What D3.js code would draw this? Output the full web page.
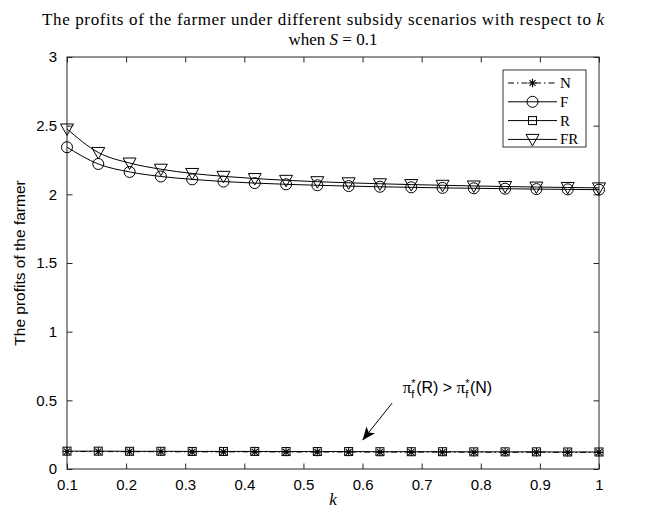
<!DOCTYPE html>
<html>
<head>
<meta charset="utf-8">
<script src="https://cdn.jsdelivr.net/npm/d3@7"></script>
<style>
  body { margin: 0; background: #fff; }
  svg { display: block; }
  text { white-space: pre; }
</style>
</head>
<body>
<script>
// values (S = 0.1), 18 sample points in k
var kValues = [0.1, 0.1529, 0.2059, 0.2588, 0.3118, 0.3647, 0.4176, 0.4706, 0.5235,
    0.5765, 0.6294, 0.6824, 0.7353, 0.7882, 0.8412, 0.8941, 0.9471, 1.0];
var profitN = [0.127, 0.127, 0.126, 0.126, 0.125, 0.125, 0.125, 0.124, 0.124,
    0.124, 0.123, 0.123, 0.123, 0.122, 0.122, 0.122, 0.121, 0.121];
var profitF = [2.343, 2.221, 2.163, 2.130, 2.109, 2.093, 2.082, 2.073, 2.066,
    2.060, 2.055, 2.051, 2.047, 2.044, 2.041, 2.038, 2.036, 2.034];
var profitR = [0.130, 0.130, 0.129, 0.129, 0.128, 0.128, 0.128, 0.127, 0.127,
    0.127, 0.126, 0.126, 0.126, 0.125, 0.125, 0.125, 0.124, 0.124];
var profitFR = [2.476, 2.305, 2.228, 2.183, 2.152, 2.131, 2.115, 2.102, 2.092,
    2.084, 2.077, 2.071, 2.066, 2.061, 2.057, 2.053, 2.050, 2.047];
var xTicks = [0.1, 0.2, 0.3, 0.4, 0.5, 0.6, 0.7, 0.8, 0.9, 1];
var yTicks = [0, 0.5, 1, 1.5, 2, 2.5, 3];
var seriesNames = ['N', 'F', 'R', 'FR'];

var width = 646, height = 513;
var margin = { top: 57, right: 47, bottom: 44, left: 67 };

var svg = d3.select("body").append("svg")
    .attr("width", width)
    .attr("height", height);

var x = d3.scaleLinear().domain([0.1, 1]).range([margin.left, width - margin.right]);
var y = d3.scaleLinear().domain([0, 3]).range([height - margin.bottom, margin.top]);

var series = [
    { name: 'N', values: profitN, dash: '6,3,1.5,3', marker: 'asterisk' },
    { name: 'F', values: profitF, dash: null, marker: 'circle' },
    { name: 'R', values: profitR, dash: null, marker: 'square' },
    { name: 'FR', values: profitFR, dash: null, marker: 'triangle' }
];

// marker shapes centred at 0,0
function drawMarker(g, type) {
    if (type == 'circle') {
        g.append("circle").attr("r", 5.5).attr("fill", "none").attr("stroke", "#000").attr("stroke-width", 1);
    } else if (type == 'square') {
        g.append("rect").attr("x", -4).attr("y", -4).attr("width", 8).attr("height", 8)
            .attr("fill", "none").attr("stroke", "#000").attr("stroke-width", 1);
    } else if (type == 'triangle') {
        g.append("path").attr("d", "M-6.5,-5L6.5,-5L0,6.5Z")
            .attr("fill", "none").attr("stroke", "#000").attr("stroke-width", 1);
    } else if (type == 'asterisk') {
        var r = 4.2, p = "";
        [0, 45, 90, 135].forEach(a => {
            var c = Math.cos(a * Math.PI / 180) * r, s = Math.sin(a * Math.PI / 180) * r;
            p += "M" + (-c) + "," + (-s) + "L" + c + "," + s;
        });
        g.append("path").attr("d", p).attr("stroke", "#000").attr("stroke-width", 1.1);
    }
}

// axes box and ticks (inward, all four sides)
svg.append("rect")
    .attr("x", x.range()[0]).attr("y", y.range()[1])
    .attr("width", x.range()[1] - x.range()[0])
    .attr("height", y.range()[0] - y.range()[1])
    .attr("fill", "#fff").attr("stroke", "#262626").attr("stroke-width", 1);

var tickLen = 5.5;
var axisFont = "15px 'Liberation Sans', Arial, sans-serif";

var xb = svg.append("g").attr("transform", `translate(0,${y.range()[0]})`)
    .call(d3.axisBottom(x).tickValues(xTicks).tickSizeInner(-tickLen).tickSizeOuter(0)
        .tickPadding(10).tickFormat(d => d3.format("")(d)));
var xt = svg.append("g").attr("transform", `translate(0,${y.range()[1]})`)
    .call(d3.axisTop(x).tickValues(xTicks).tickSizeInner(-tickLen).tickSizeOuter(0).tickFormat(""));
var yl = svg.append("g").attr("transform", `translate(${x.range()[0]},0)`)
    .call(d3.axisLeft(y).tickValues(yTicks).tickSizeInner(-tickLen).tickSizeOuter(0)
        .tickPadding(10).tickFormat(d => d3.format("")(d)));
var yr = svg.append("g").attr("transform", `translate(${x.range()[1]},0)`)
    .call(d3.axisRight(y).tickValues(yTicks).tickSizeInner(-tickLen).tickSizeOuter(0).tickFormat(""));
[xb, xt, yl, yr].forEach(a => {
    a.select(".domain").remove();
    a.selectAll("line").attr("stroke", "#262626");
    a.selectAll("text").style("font", axisFont).attr("fill", "#000");
});

// curves
var line = d3.line()
    .x((d, i) => x(kValues[i]))
    .y(d => y(d))
    .curve(d3.curveMonotoneX);

series.forEach(s => {
    svg.append("path")
        .attr("d", line(s.values))
        .attr("fill", "none")
        .attr("stroke", "#000")
        .attr("stroke-width", 1)
        .attr("stroke-dasharray", s.dash);
});
series.forEach(s => {
    s.values.forEach((v, i) => {
        var g = svg.append("g").attr("transform", `translate(${x(kValues[i])},${y(v)})`);
        drawMarker(g, s.marker);
    });
});

// legend
var serif = "'Liberation Serif', 'Times New Roman', serif";
var leg = svg.append("g").attr("transform", "translate(503,70)");
leg.append("rect").attr("width", 83).attr("height", 77)
    .attr("fill", "#fff").attr("stroke", "#000").attr("stroke-width", 0.8);
series.forEach((s, i) => {
    var yy = 13 + i * 18.8;
    leg.append("line").attr("x1", 5).attr("x2", 54).attr("y1", yy).attr("y2", yy)
        .attr("stroke", "#000").attr("stroke-width", 1).attr("stroke-dasharray", s.dash);
    drawMarker(leg.append("g").attr("transform", `translate(29.5,${yy})`), s.marker);
    leg.append("text").attr("x", 57).attr("y", yy + 5)
        .style("font-family", serif).style("font-size", "15px")
        .text(seriesNames[i]);
});

// title (stretched to the width of the LaTeX original)
var title = svg.append("text").attr("text-anchor", "middle")
    .attr("x", 323).attr("y", 25)
    .attr("textLength", 562).attr("lengthAdjust", "spacing")
    .style("font-family", serif).style("font-size", "17px");
title.append("tspan").text("The profits of the farmer under different subsidy scenarios with respect to ");
title.append("tspan").style("font-style", "italic").text("k");
var t2 = svg.append("text").attr("text-anchor", "middle")
    .attr("x", 333).attr("y", 45)
    .style("font-family", serif).style("font-size", "17px");
t2.append("tspan").text("when ");
t2.append("tspan").style("font-style", "italic").text("S");
t2.append("tspan").text(" = 0.1");

// axis labels
svg.append("text")
    .attr("x", (x.range()[0] + x.range()[1]) / 2).attr("y", 505)
    .attr("text-anchor", "middle")
    .style("font-family", serif).style("font-size", "17px").style("font-style", "italic")
    .text("k");
svg.append("text")
    .attr("transform", `translate(25,${(y.range()[0] + y.range()[1]) / 2}) rotate(-90)`)
    .attr("text-anchor", "middle")
    .style("font", "15.5px 'Liberation Sans', Arial, sans-serif")
    .text("The profits of the farmer");

// annotation with arrow
var defs = svg.append("defs");
defs.append("marker").attr("id", "arrowhead")
    .attr("viewBox", "0 0 12 10").attr("refX", 12).attr("refY", 5)
    .attr("markerUnits", "userSpaceOnUse")
    .attr("markerWidth", 14).attr("markerHeight", 11).attr("orient", "auto")
    .append("path").attr("d", "M0,0L12,5L0,10L3,5Z").attr("fill", "#000");

svg.append("line")
    .attr("x1", x(0.65)).attr("y1", y(0.48))
    .attr("x2", x(0.6)).attr("y2", y(0.21))
    .attr("stroke", "#000").attr("stroke-width", 1)
    .attr("marker-end", "url(#arrowhead)");

var ann = svg.append("g").attr("transform", `translate(${x(0.668)},${y(0.555)})`);
var cx = 0;
function piece(txt, font, dy) {
    var t = ann.append("text").attr("x", cx).attr("y", dy || 0).style("font", font).text(txt);
    return t.node().getComputedTextLength();
}
var bigSans = "16px 'Liberation Sans', Arial, sans-serif";
var piFont = "17px 'Liberation Serif', 'Times New Roman', serif";
var smallSans = "11px 'Liberation Sans', Arial, sans-serif";
function piTerm(arg) {
    cx += piece("\u03c0", piFont);
    var w1 = piece("*", smallSans, -6);
    var w2 = piece("f", smallSans, 5);
    cx += Math.max(w1, w2) + 0.5;
    cx += piece(arg, bigSans);
}
piTerm("(R) > ");
piTerm("(N)");
</script>
</body>
</html>
